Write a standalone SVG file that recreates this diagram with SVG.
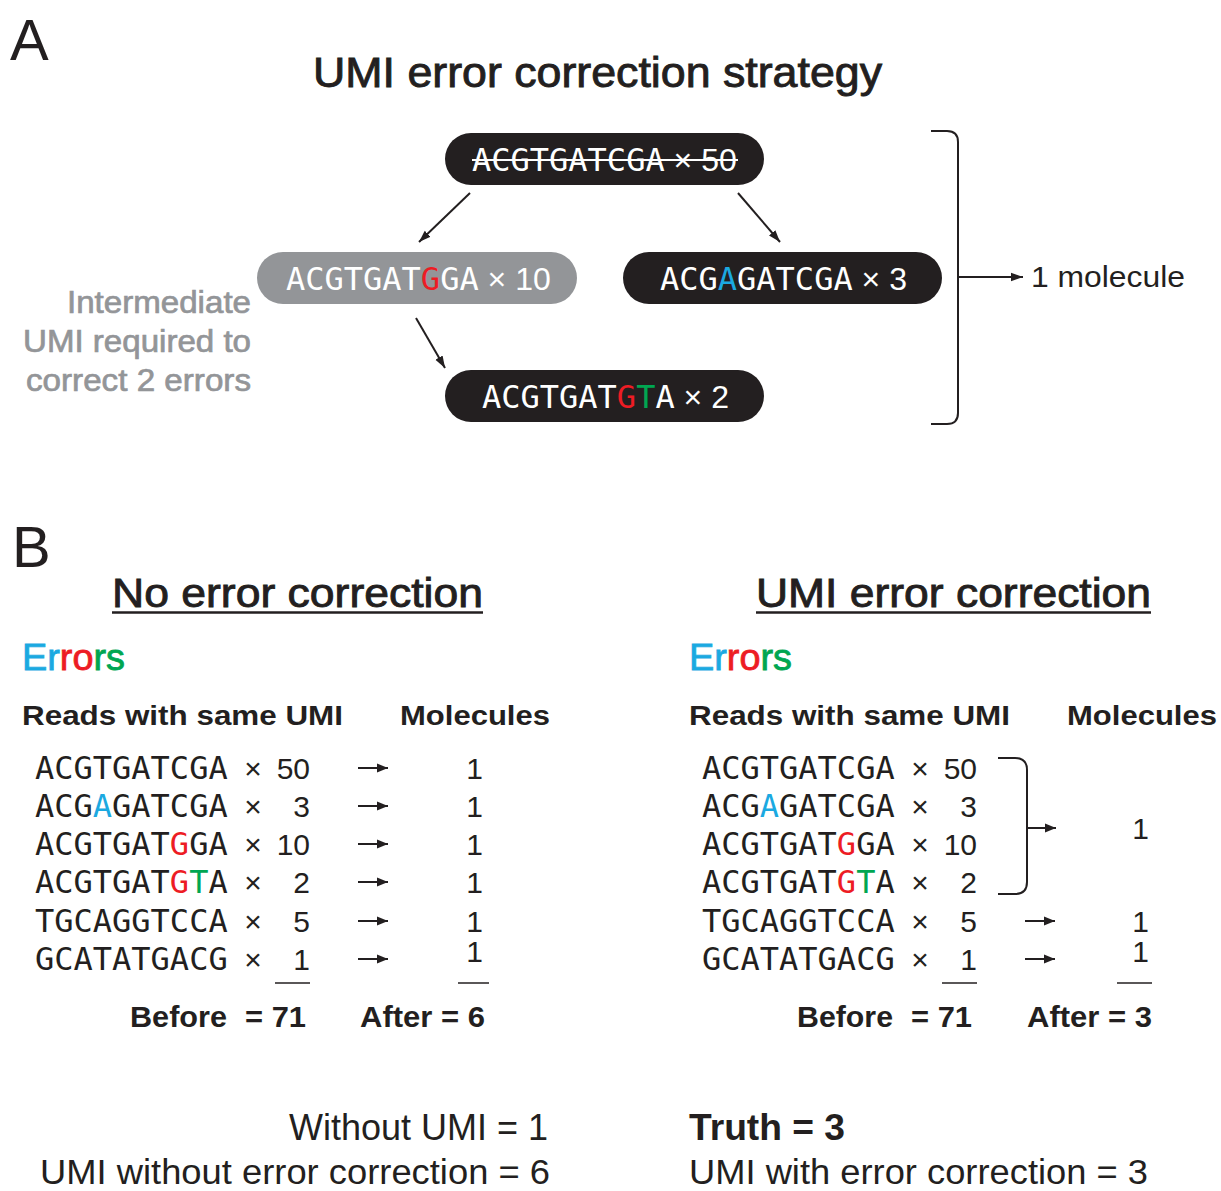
<svg xmlns="http://www.w3.org/2000/svg" width="1221" height="1191" viewBox="0 0 1221 1191">
<style>
.s{font-family:"Liberation Sans",Arial,Helvetica,sans-serif;fill:#231f20}
.m{font-family:"DejaVu Sans Mono","Liberation Mono",monospace;font-size:32px;fill:#231f20}
.w{fill:#ffffff}
.b{fill:#1ba9e1}
.r{fill:#ed1c24}
.g{fill:#00a651}
.gray{fill:#939598}
.pill{fill:#231f20}
.ln{stroke:#231f20;stroke-width:2;fill:none}
.row{font-size:30px}
.hd{font-size:28px;font-weight:bold}
.med{stroke:#231f20;stroke-width:0.9}
.medg{stroke:#939598;stroke-width:0.7}
</style>
<defs>
<marker id="ah" viewBox="0 0 10 10" refX="10" refY="5" markerWidth="11" markerHeight="11" markerUnits="userSpaceOnUse" orient="auto">
<path d="M0,1 L10,5 L0,9 z" fill="#231f20"/>
</marker>
<marker id="ah2" viewBox="0 0 10 10" refX="10" refY="5" markerWidth="12" markerHeight="12" markerUnits="userSpaceOnUse" orient="auto">
<path d="M0,1.5 L10,5 L0,8.5 z" fill="#231f20"/>
</marker>
</defs>

<!-- Panel A -->
<text class="s" x="10" y="60" font-size="58">A</text>
<text class="s med" x="313" y="87" font-size="42" textLength="569" lengthAdjust="spacingAndGlyphs">UMI error correction strategy</text>

<g id="node-top">
<rect class="pill" x="445" y="133" width="319" height="52" rx="26"/>
<text class="m w" x="472" y="171">ACGTGATCGA<tspan class="s w" font-size="32"> × 50</tspan></text>
<line x1="472" y1="160" x2="738" y2="160" stroke="#ffffff" stroke-width="2"/>
</g>
<g id="node-gray">
<rect x="257" y="252" width="320" height="52" rx="26" fill="#939598"/>
<text class="m w" x="286" y="290">ACGTGAT<tspan class="r">G</tspan>GA<tspan class="s w" font-size="32"> × 10</tspan></text>
</g>
<g id="node-right">
<rect class="pill" x="623" y="252" width="319" height="52" rx="26"/>
<text class="m w" x="660" y="290">ACG<tspan class="b">A</tspan>GATCGA<tspan class="s w" font-size="32"> × 3</tspan></text>
</g>
<g id="node-bottom">
<rect class="pill" x="445" y="370" width="319" height="52" rx="26"/>
<text class="m w" x="482" y="408">ACGTGAT<tspan class="r">G</tspan><tspan class="g">T</tspan>A<tspan class="s w" font-size="32"> × 2</tspan></text>
</g>
<g id="label-intermediate">
<text class="s gray medg" font-size="31" x="67" y="313" textLength="184" lengthAdjust="spacingAndGlyphs">Intermediate</text>
<text class="s gray medg" font-size="31" x="23" y="352" textLength="228" lengthAdjust="spacingAndGlyphs">UMI required to</text>
<text class="s gray medg" font-size="31" x="26" y="391" textLength="225" lengthAdjust="spacingAndGlyphs">correct 2 errors</text>
</g>
<g id="label-molecule">
<text class="s" font-size="30" x="1031" y="287" textLength="154" lengthAdjust="spacingAndGlyphs">1 molecule</text>
</g>

<g id="connectors">
<line class="ln" x1="470" y1="193" x2="419" y2="242" marker-end="url(#ah2)"/>
<line class="ln" x1="738" y1="193" x2="780" y2="242" marker-end="url(#ah2)"/>
<line class="ln" x1="416" y1="318" x2="445" y2="368" marker-end="url(#ah2)"/>
<path class="ln" d="M931,131 H947 Q958,131 958,142 V413 Q958,424 947,424 H931"/>
<line class="ln" x1="958" y1="277" x2="1023" y2="277" marker-end="url(#ah2)"/>
<line class="ln" x1="358" y1="768" x2="388" y2="768" marker-end="url(#ah)"/>
<line class="ln" x1="358" y1="806" x2="388" y2="806" marker-end="url(#ah)"/>
<line class="ln" x1="358" y1="844" x2="388" y2="844" marker-end="url(#ah)"/>
<line class="ln" x1="358" y1="882" x2="388" y2="882" marker-end="url(#ah)"/>
<line class="ln" x1="358" y1="921" x2="388" y2="921" marker-end="url(#ah)"/>
<line class="ln" x1="358" y1="959" x2="388" y2="959" marker-end="url(#ah)"/>
<path class="ln" d="M998,758 H1015 Q1027,758 1027,770 V882 Q1027,894 1015,894 H998"/>
<line class="ln" x1="1027" y1="828" x2="1056" y2="828" marker-end="url(#ah)"/>
<line class="ln" x1="1025" y1="921" x2="1055" y2="921" marker-end="url(#ah)"/>
<line class="ln" x1="1025" y1="959" x2="1055" y2="959" marker-end="url(#ah)"/>
</g>

<!-- Panel B -->
<text class="s" x="12" y="567" font-size="58">B</text>

<g id="left-table">
<text class="s med" x="112" y="607" font-size="41" textLength="371" lengthAdjust="spacingAndGlyphs">No error correction</text>
<line x1="112" y1="612.5" x2="483" y2="612.5" stroke="#231f20" stroke-width="2.5"/>
<text class="s" x="22" y="670" font-size="36" textLength="103" lengthAdjust="spacingAndGlyphs"><tspan class="b" stroke="#1ba9e1" stroke-width="0.8">Er</tspan><tspan class="r" stroke="#ed1c24" stroke-width="0.8">ro</tspan><tspan class="g" stroke="#00a651" stroke-width="0.8">rs</tspan></text>
<text class="s hd" x="22" y="725" textLength="321" lengthAdjust="spacingAndGlyphs">Reads with same UMI</text>
<text class="s hd" x="400" y="725" textLength="150" lengthAdjust="spacingAndGlyphs">Molecules</text>

<text class="m" x="35" y="779">ACGTGATCGA</text>
<text class="m" x="35" y="817">ACG<tspan class="b">A</tspan>GATCGA</text>
<text class="m" x="35" y="855">ACGTGAT<tspan class="r">G</tspan>GA</text>
<text class="m" x="35" y="893">ACGTGAT<tspan class="r">G</tspan><tspan class="g">T</tspan>A</text>
<text class="m" x="35" y="932">TGCAGGTCCA</text>
<text class="m" x="35" y="970">GCATATGACG</text>

<g class="s row" text-anchor="middle">
<text x="253" y="779">×</text><text x="253" y="817">×</text><text x="253" y="855">×</text>
<text x="253" y="893">×</text><text x="253" y="932">×</text><text x="253" y="970">×</text>
</g>
<g class="s row" text-anchor="end">
<text x="310" y="779">50</text><text x="310" y="817">3</text><text x="310" y="855">10</text>
<text x="310" y="893">2</text><text x="310" y="932">5</text><text x="310" y="970">1</text>
<text x="483" y="779">1</text><text x="483" y="817">1</text><text x="483" y="855">1</text>
<text x="483" y="893">1</text><text x="483" y="932">1</text><text x="483" y="962">1</text>
</g>
<line x1="275" y1="983" x2="310" y2="983" stroke="#231f20" stroke-width="1.5"/>
<line x1="458" y1="983" x2="489" y2="983" stroke="#231f20" stroke-width="1.5"/>
<text class="s" font-size="30" font-weight="bold" x="130" y="1027" textLength="97" lengthAdjust="spacingAndGlyphs">Before</text>
<text class="s" font-size="30" font-weight="bold" x="245" y="1027" textLength="61" lengthAdjust="spacingAndGlyphs">= 71</text>
<text class="s" font-size="30" font-weight="bold" x="360" y="1027" textLength="125" lengthAdjust="spacingAndGlyphs">After = 6</text>
</g>

<g id="right-table">
<text class="s med" x="756" y="607" font-size="41" textLength="395" lengthAdjust="spacingAndGlyphs">UMI error correction</text>
<line x1="756" y1="612.5" x2="1151" y2="612.5" stroke="#231f20" stroke-width="2.5"/>
<text class="s" x="689" y="670" font-size="36" textLength="103" lengthAdjust="spacingAndGlyphs"><tspan class="b" stroke="#1ba9e1" stroke-width="0.8">Er</tspan><tspan class="r" stroke="#ed1c24" stroke-width="0.8">ro</tspan><tspan class="g" stroke="#00a651" stroke-width="0.8">rs</tspan></text>
<text class="s hd" x="689" y="725" textLength="321" lengthAdjust="spacingAndGlyphs">Reads with same UMI</text>
<text class="s hd" x="1067" y="725" textLength="150" lengthAdjust="spacingAndGlyphs">Molecules</text>

<text class="m" x="702" y="779">ACGTGATCGA</text>
<text class="m" x="702" y="817">ACG<tspan class="b">A</tspan>GATCGA</text>
<text class="m" x="702" y="855">ACGTGAT<tspan class="r">G</tspan>GA</text>
<text class="m" x="702" y="893">ACGTGAT<tspan class="r">G</tspan><tspan class="g">T</tspan>A</text>
<text class="m" x="702" y="932">TGCAGGTCCA</text>
<text class="m" x="702" y="970">GCATATGACG</text>

<g class="s row" text-anchor="middle">
<text x="920" y="779">×</text><text x="920" y="817">×</text><text x="920" y="855">×</text>
<text x="920" y="893">×</text><text x="920" y="932">×</text><text x="920" y="970">×</text>
</g>
<g class="s row" text-anchor="end">
<text x="977" y="779">50</text><text x="977" y="817">3</text><text x="977" y="855">10</text>
<text x="977" y="893">2</text><text x="977" y="932">5</text><text x="977" y="970">1</text>
<text x="1149" y="839">1</text>
<text x="1149" y="932">1</text><text x="1149" y="962">1</text>
</g>
<line x1="942" y1="983" x2="977" y2="983" stroke="#231f20" stroke-width="1.5"/>
<line x1="1117" y1="983" x2="1152" y2="983" stroke="#231f20" stroke-width="1.5"/>
<text class="s" font-size="30" font-weight="bold" x="797" y="1027" textLength="96" lengthAdjust="spacingAndGlyphs">Before</text>
<text class="s" font-size="30" font-weight="bold" x="911" y="1027" textLength="61" lengthAdjust="spacingAndGlyphs">= 71</text>
<text class="s" font-size="30" font-weight="bold" x="1027" y="1027" textLength="125" lengthAdjust="spacingAndGlyphs">After = 3</text>
</g>

<g id="summary">
<text class="s" font-size="36" x="548" y="1140" text-anchor="end" textLength="259" lengthAdjust="spacingAndGlyphs">Without UMI = 1</text>
<text class="s" font-size="35" x="40" y="1184" textLength="510" lengthAdjust="spacingAndGlyphs">UMI without error correction = 6</text>
<text class="s" font-size="36" font-weight="bold" x="689" y="1140" textLength="156" lengthAdjust="spacingAndGlyphs">Truth = 3</text>
<text class="s" font-size="35" x="689" y="1184" textLength="459" lengthAdjust="spacingAndGlyphs">UMI with error correction = 3</text>
</g>
</svg>
